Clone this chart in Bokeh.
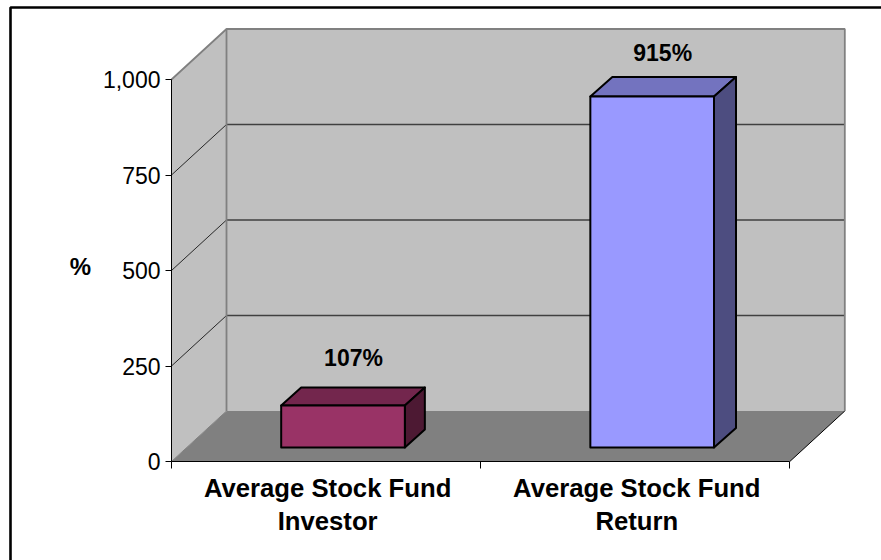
from bokeh.plotting import figure
from bokeh.models import LinearAxis, FixedTicker, Range1d
from bokeh.core.properties import value
from bokeh.embed import file_html
from bokeh.resources import INLINE

# ---- data
categories = ["Average Stock Fund\nInvestor", "Average Stock Fund\nReturn"]
cat_pos = [0.5, 1.5]
bar_heights = [110, 919]
bar_labels = ["107%", "915%"]
y_ticks = [0, 250, 500, 750, 1000]
y_tick_labels = ["0", "250", "500", "750", "1,000"]
y_title = "%"

# ---- colours
face = ["#993366", "#9999FF"]
top = ["#73264D", "#7373BF"]
side = ["#4D1933", "#4D4D80"]
WALL, FLOOR, EDGE = "#C0C0C0", "#808080", "#808080"
GRID = "#404040"
FONT = "Liberation Sans"

# ---- layout of the picture
W, H = 881, 560
X0, SX = 171.0, 309.15   # pixel of x=0, pixels per category
Y0, SY = 461.0, 0.382    # pixel of value 0, pixels per value unit
DX, DY = 55.0, 50.5      # depth of the box in pixels


def dx(px):
    return px / SX


def dy(px):
    return px / SY


def px_x(x):
    return (x - X0) / SX


def px_y(y):
    return (Y0 - y) / SY


p = figure(width=W, height=H, output_backend="svg", toolbar_location=None,
           x_axis_type=None, y_axis_type=None,
           x_range=Range1d(px_x(0), px_x(W)), y_range=Range1d(px_y(H), px_y(0)),
           min_border=0, outline_line_color=None, background_fill_color="white",
           border_fill_color="white")
p.grid.visible = False

xmax, ymax = 2.0, 1000.0
# floor
p.patch([0, xmax, xmax + dx(DX), dx(DX)], [0, 0, dy(DY), dy(DY)],
        fill_color=FLOOR, line_color=None)
p.line([xmax, xmax + dx(DX)], [0, dy(DY)], line_color="black", line_width=1)
# back wall
p.patch([dx(DX), xmax + dx(DX), xmax + dx(DX), dx(DX)],
        [dy(DY), dy(DY), ymax + dy(DY), ymax + dy(DY)],
        fill_color=WALL, line_color=None)
# left wall
p.patch([0, dx(DX), dx(DX), 0], [0, dy(DY), ymax + dy(DY), ymax],
        fill_color=WALL, line_color=None)
# gridlines
for t in y_ticks[1:-1]:
    p.line([0, dx(DX)], [t, t + dy(DY)], line_color="black", line_width=0.8)
    p.line([dx(DX), xmax + dx(DX)], [t + dy(DY), t + dy(DY)], line_color=GRID, line_width=1.4)
# wall edges
p.line([0, dx(DX), xmax + dx(DX), xmax + dx(DX)],
       [ymax, ymax + dy(DY), ymax + dy(DY), dy(DY)], line_color=EDGE, line_width=1.8)
p.line([dx(DX), dx(DX)], [dy(DY), ymax + dy(DY)], line_color=EDGE, line_width=1.8)
p.line([0, dx(DX)], [0, dy(DY)], line_color=EDGE, line_width=1)

# bars
FRONT_DX, FRONT_DY = 15.4, 14.0
HALF = 0.2
DEPTHS = [(20.0, 18.0), (22.0, 19.5)]
LABEL_GAPS = [29.0, 24.0]
for i, (c, h) in enumerate(zip(cat_pos, bar_heights)):
    l = c - HALF + dx(FRONT_DX) + 0.005
    r = c + HALF + dx(FRONT_DX) + 0.005
    b = dy(FRONT_DY)
    t = h + b
    ddx, ddy = dx(DEPTHS[i][0]), dy(DEPTHS[i][1])
    p.patch([l, r, r + ddx, l + ddx], [t, t, t + ddy, t + ddy],
            fill_color=top[i], line_color="black", line_width=2, line_join="round")
    p.patch([r, r + ddx, r + ddx, r], [b, b + ddy, t + ddy, t],
            fill_color=side[i], line_color="black", line_width=2, line_join="round")
    p.patch([l, r, r, l], [b, b, t, t],
            fill_color=face[i], line_color="black", line_width=2, line_join="round")
    p.text([(l + r) / 2 + dx(10.5)], [t + ddy + dy(LABEL_GAPS[i])], text=[bar_labels[i]],
           text_font=value(FONT), text_font_style="bold", text_font_size="23px",
           text_align="center", text_baseline="alphabetic", text_color="black")

# axis title
p.text([px_x(80)], [px_y(266)], text=[y_title], text_font=value(FONT),
       text_font_style="bold", text_font_size="24px", text_align="center",
       text_baseline="alphabetic", text_color="black")

# chart-area border (its right and bottom sides lie outside the picture)
p.line([px_x(10), px_x(10), px_x(W + 5)], [px_y(H + 5), px_y(7), px_y(7)],
       line_color="black", line_width=2.6)

# axes
ya = LinearAxis(ticker=FixedTicker(ticks=y_ticks), fixed_location=0, bounds=(0, 1000))
ya.major_label_overrides = dict(zip(y_ticks, y_tick_labels))
ya.major_tick_in = 0
ya.major_tick_out = 6
ya.minor_tick_line_color = None
ya.major_label_standoff = 5
ya.major_label_text_font = FONT
ya.major_label_text_font_size = "23px"
ya.major_label_text_color = "black"
ya.axis_line_color = "black"
ya.major_tick_line_color = "black"
p.add_layout(ya, "left")

xa = LinearAxis(ticker=FixedTicker(ticks=[c + 0.005 for c in cat_pos], minor_ticks=[0, 1, 2]),
                fixed_location=0, bounds=(0, 2))
xa.major_label_overrides = {c + 0.005: s for c, s in zip(cat_pos, categories)}
xa.major_tick_line_color = None
xa.major_tick_in = 0
xa.major_tick_out = 0
xa.minor_tick_in = 0
xa.minor_tick_out = 7
xa.minor_tick_line_color = "black"
xa.axis_line_color = "black"
xa.major_label_standoff = 5
xa.major_label_text_font = FONT
xa.major_label_text_font_size = "25.7px"
xa.major_label_text_font_style = "bold"
xa.major_label_text_color = "black"
xa.major_label_text_line_height = 1.18
p.add_layout(xa, "below")

open("out.html", "w").write(file_html(p, INLINE))
